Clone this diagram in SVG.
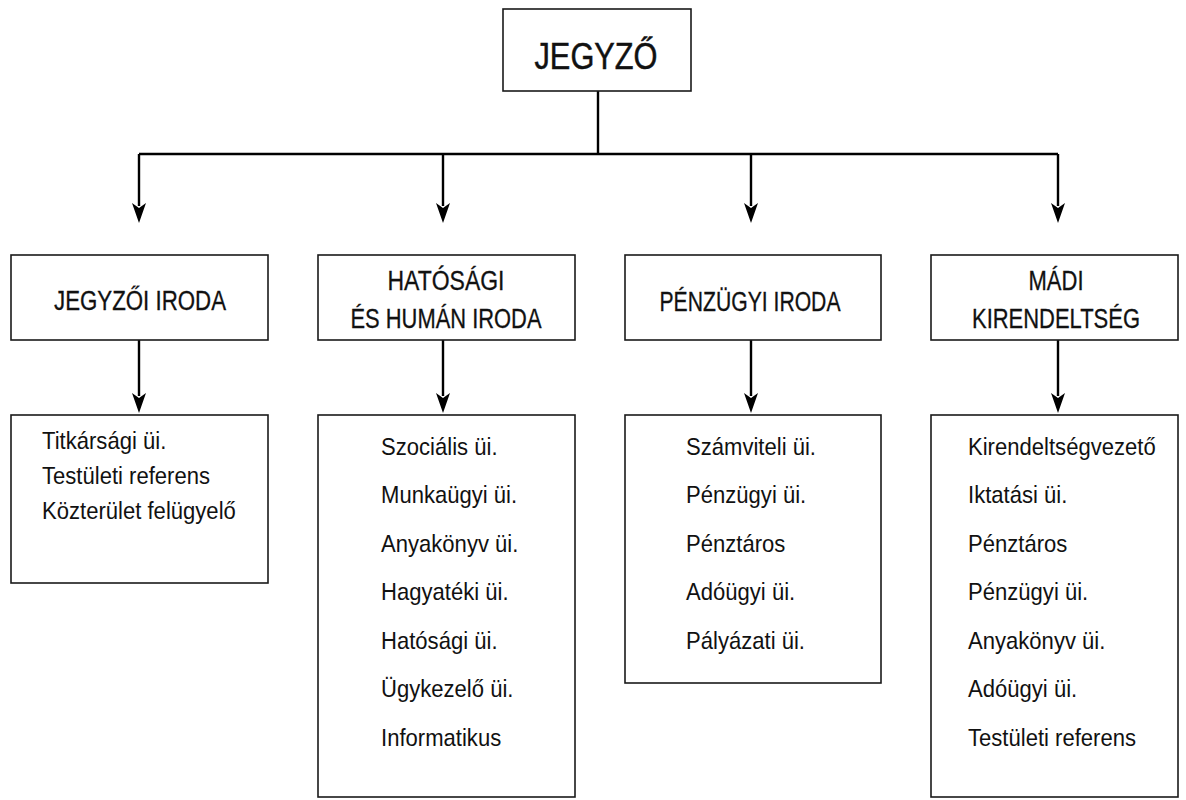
<svg xmlns="http://www.w3.org/2000/svg" width="1186" height="800" viewBox="0 0 1186 800">
<defs>
<path id="head" d="M-7,0 L0,20 L7,0 L0,5 Z"/>
<style>
.box{fill:#fff;stroke:#1a1a1a;stroke-width:1.6}
.ln{fill:none;stroke:#000;stroke-width:2.4}
.hd{fill:#000}
.t{font-family:"Liberation Sans",Arial,sans-serif;font-size:24px;fill:#111}
.h{font-family:"Liberation Sans",Arial,sans-serif;font-size:27px;fill:#111;text-anchor:middle;stroke:#111;stroke-width:0.3}
.top{font-family:"Liberation Sans",Arial,sans-serif;font-size:37px;fill:#111;text-anchor:middle;stroke:#111;stroke-width:0.5}
</style>
</defs>
<rect width="1186" height="800" fill="#fff"/>

<g id="connectors">
<path class="ln" d="M598,91 V154 M139,154 H1058 M139,154 V206 M443,154 V206 M751,154 V206 M1058,154 V206"/>
<path class="ln" d="M139,340 V396 M443,340 V396 M751,340 V396 M1058,340 V396"/>
<use href="#head" class="hd" x="139" y="203"/>
<use href="#head" class="hd" x="443" y="203"/>
<use href="#head" class="hd" x="751" y="203"/>
<use href="#head" class="hd" x="1058" y="203"/>
<use href="#head" class="hd" x="139" y="393"/>
<use href="#head" class="hd" x="443" y="393"/>
<use href="#head" class="hd" x="751" y="393"/>
<use href="#head" class="hd" x="1058" y="393"/>
</g>

<g id="jegyzo">
<rect class="box" x="503" y="9" width="188" height="82"/>
<text class="top" x="596" y="69" textLength="123" lengthAdjust="spacingAndGlyphs">JEGYZŐ</text>
</g>

<g id="jegyzoi-iroda">
<rect class="box" x="11" y="255" width="257" height="85"/>
<text class="h" x="140" y="310" textLength="172" lengthAdjust="spacingAndGlyphs">JEGYZŐI IRODA</text>
</g>
<g id="hatosagi-iroda">
<rect class="box" x="318" y="255" width="257" height="85"/>
<text class="h" x="446" y="290" textLength="117" lengthAdjust="spacingAndGlyphs">HATÓSÁGI</text>
<text class="h" x="446" y="328" textLength="191" lengthAdjust="spacingAndGlyphs">ÉS HUMÁN IRODA</text>
</g>
<g id="penzugyi-iroda">
<rect class="box" x="625" y="255" width="256" height="85"/>
<text class="h" x="750" y="311" textLength="181" lengthAdjust="spacingAndGlyphs">PÉNZÜGYI IRODA</text>
</g>
<g id="madi-kirendeltseg">
<rect class="box" x="931" y="255" width="247" height="85"/>
<text class="h" x="1056" y="290" textLength="55" lengthAdjust="spacingAndGlyphs">MÁDI</text>
<text class="h" x="1056" y="328" textLength="168" lengthAdjust="spacingAndGlyphs">KIRENDELTSÉG</text>
</g>

<g id="jegyzoi-staff">
<rect class="box" x="11" y="415" width="257" height="168"/>
<g transform="translate(42,0) scale(0.92,1)">
<text class="t" x="0" y="449">Titkársági üi.</text>
<text class="t" x="0" y="484">Testületi referens</text>
<text class="t" x="0" y="519">Közterület felügyelő</text>
</g>
</g>
<g id="hatosagi-staff">
<rect class="box" x="318" y="415" width="257" height="382"/>
<g transform="translate(381,0) scale(0.92,1)">
<text class="t" x="0" y="455">Szociális üi.</text>
<text class="t" x="0" y="503">Munkaügyi üi.</text>
<text class="t" x="0" y="552">Anyakönyv üi.</text>
<text class="t" x="0" y="600">Hagyatéki üi.</text>
<text class="t" x="0" y="649">Hatósági üi.</text>
<text class="t" x="0" y="697">Ügykezelő üi.</text>
<text class="t" x="0" y="746">Informatikus</text>
</g>
</g>
<g id="penzugyi-staff">
<rect class="box" x="625" y="415" width="256" height="268"/>
<g transform="translate(686,0) scale(0.92,1)">
<text class="t" x="0" y="455">Számviteli üi.</text>
<text class="t" x="0" y="503">Pénzügyi üi.</text>
<text class="t" x="0" y="552">Pénztáros</text>
<text class="t" x="0" y="600">Adóügyi üi.</text>
<text class="t" x="0" y="649">Pályázati üi.</text>
</g>
</g>
<g id="madi-staff">
<rect class="box" x="931" y="415" width="247" height="382"/>
<g transform="translate(968,0) scale(0.92,1)">
<text class="t" x="0" y="455">Kirendeltségvezető</text>
<text class="t" x="0" y="503">Iktatási üi.</text>
<text class="t" x="0" y="552">Pénztáros</text>
<text class="t" x="0" y="600">Pénzügyi üi.</text>
<text class="t" x="0" y="649">Anyakönyv üi.</text>
<text class="t" x="0" y="697">Adóügyi üi.</text>
<text class="t" x="0" y="746">Testületi referens</text>
</g>
</g>
</svg>
